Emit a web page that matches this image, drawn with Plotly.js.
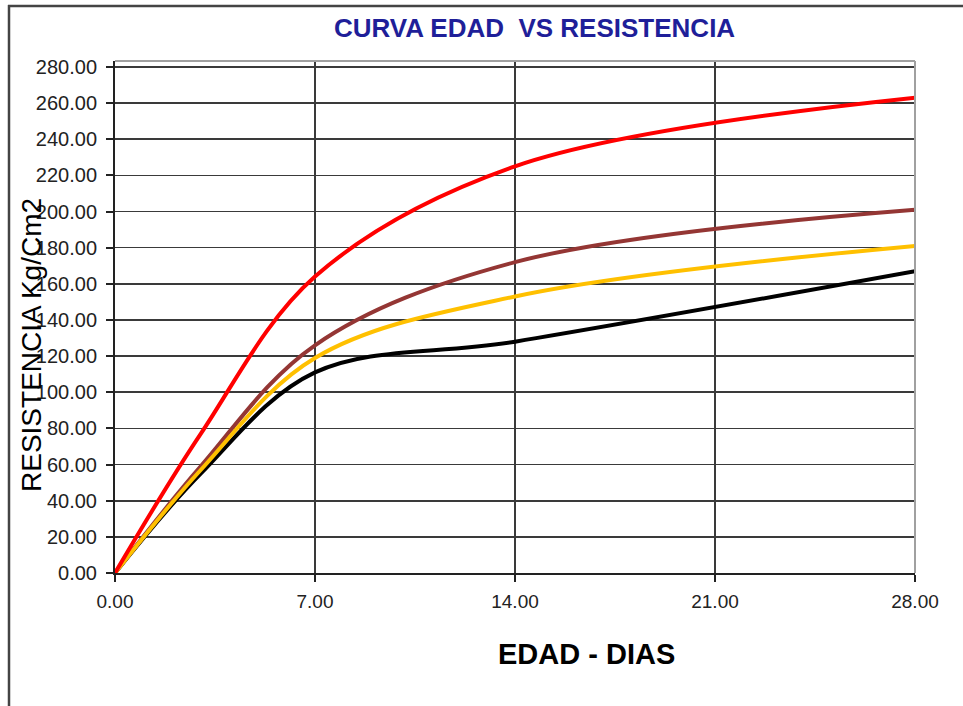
<!DOCTYPE html>
<html>
<head>
<meta charset="utf-8">
<script src="https://cdn.plot.ly/plotly-2.35.2.min.js"></script>
<style>
html,body{margin:0;padding:0;background:#fff;}
#chart{width:963px;height:706px;}
</style>
</head>
<body>
<div id="chart"></div>
<script>
// Edad (días)
const edadDias = [0, 3, 7, 14, 28];
// Resistencia (Kg/Cm2) por curva
const curvaNegra    = [0, 55, 111, 128, 167];
const curvaMarron   = [0, 59, 126, 172, 201];
const curvaAmarilla = [0, 57, 119, 153, 181];
const curvaRoja     = [0, 77, 164, 225, 263];
const xTicks = [0, 7, 14, 21, 28];
const yTicks = [0,20,40,60,80,100,120,140,160,180,200,220,240,260,280];

const series = [
  {y: curvaNegra, color: '#000000', name: 'Negra'},
  {y: curvaMarron, color: '#943634', name: 'Marrón'},
  {y: curvaAmarilla, color: '#FFC000', name: 'Amarilla'},
  {y: curvaRoja, color: '#FF0000', name: 'Roja'}
];

const traces = series.map(s => ({
  x: edadDias, y: s.y, name: s.name, type: 'scatter', mode: 'lines',
  line: {color: s.color, width: 4, shape: 'spline', smoothing: 1},
  hoverinfo: 'x+y'
}));

const W = 963, H = 706;
const L = 115, R = 48, T = 61, B = 133;
const pw = W - L - R, ph = H - T - B;
const px = v => (v - L) / pw;
const py = v => 1 - (v - T) / ph;

const layout = {
  width: W, height: H,
  margin: {l: L, r: R, t: T, b: B, pad: 0},
  paper_bgcolor: '#ffffff', plot_bgcolor: '#ffffff',
  showlegend: false,
  font: {family: 'Liberation Sans, Arial, sans-serif', color: '#222'},
  xaxis: {
    range: [0, 28], tickvals: xTicks, ticktext: xTicks.map(v => v.toFixed(2)),
    showgrid: true, gridcolor: '#3a3a3a', gridwidth: 1.6,
    showline: true, linecolor: '#222', linewidth: 2,
    ticks: 'outside', ticklen: 7, tickwidth: 2, tickcolor: '#222',
    tickfont: {size: 19, color: '#222'}, zeroline: false, ticklabelstandoff: 3
  },
  yaxis: {
    range: [0, 283.3], tickvals: yTicks, ticktext: yTicks.map(v => v.toFixed(2)),
    showgrid: true, gridcolor: '#3a3a3a', gridwidth: 1.6,
    showline: true, linecolor: '#222', linewidth: 2,
    ticks: 'outside', ticklen: 7, tickwidth: 2, tickcolor: '#222',
    tickfont: {size: 20, color: '#222'}, zeroline: false, ticklabelstandoff: 5
  },
  annotations: [
    {text: '<b>CURVA EDAD  VS RESISTENCIA</b>', xref: 'paper', yref: 'paper',
     x: px(534), y: py(28), xanchor: 'center', yanchor: 'middle', showarrow: false,
     font: {size: 26, color: '#1F1F99', family: 'Liberation Sans, Arial, sans-serif'}},
    {text: '<b>EDAD - DIAS</b>', xref: 'paper', yref: 'paper',
     x: px(586), y: py(654), xanchor: 'center', yanchor: 'middle', showarrow: false,
     font: {size: 29, color: '#000', family: 'Liberation Sans, Arial, sans-serif'}},
    {text: 'RESISTENCIA Kg/Cm2', xref: 'paper', yref: 'paper', textangle: -90,
     x: px(31), y: py(345), xanchor: 'center', yanchor: 'middle', showarrow: false,
     font: {size: 28, color: '#000', family: 'Liberation Sans, Arial, sans-serif'}}
  ],
  shapes: [
    {type: 'line', xref: 'paper', yref: 'paper', x0: 0, x1: 1, y0: 1, y1: 1,
     line: {color: '#a0a0a0', width: 2}},
    {type: 'line', xref: 'paper', yref: 'paper', x0: 1, x1: 1, y0: 0, y1: 1,
     line: {color: '#a0a0a0', width: 2}},
    {type: 'line', xref: 'paper', yref: 'paper', x0: px(9), x1: px(9), y0: py(5), y1: py(720),
     line: {color: '#444', width: 2.5}},
    {type: 'line', xref: 'paper', yref: 'paper', x0: px(8), x1: px(980), y0: py(6), y1: py(6),
     line: {color: '#444', width: 2.5}}
  ]
};

Plotly.newPlot('chart', traces, layout, {displayModeBar: false, staticPlot: true});
</script>
</body>
</html>
